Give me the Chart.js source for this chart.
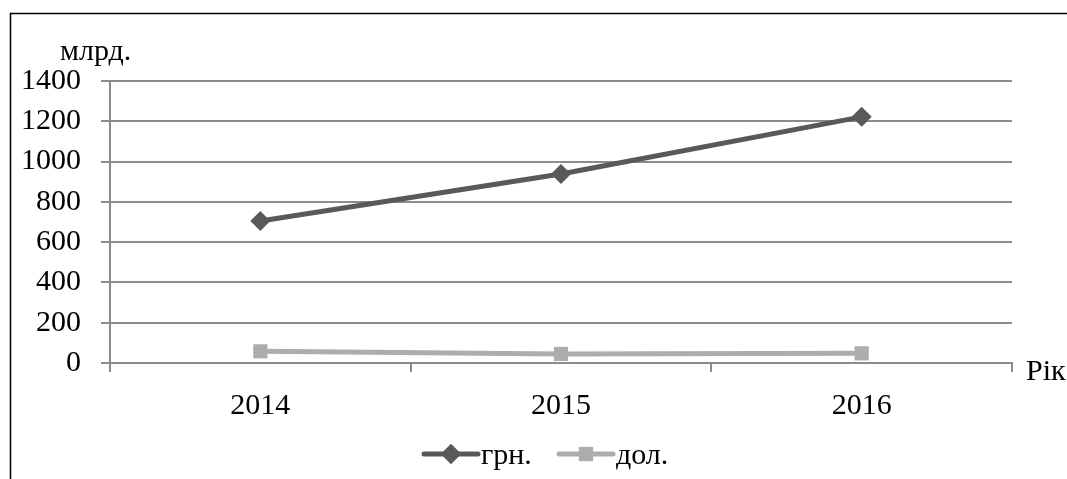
<!DOCTYPE html>
<html>
<head>
<meta charset="utf-8">
<script src="https://cdn.jsdelivr.net/npm/chart.js@4/dist/chart.umd.min.js"></script>
<style>
  html, body { margin: 0; padding: 0; background: #fff; }
  #wrap { position: relative; width: 1067px; height: 479px; }
</style>
</head>
<body>
<div id="wrap"><canvas id="c" width="1067" height="479"></canvas></div>
<script>
// Роки та значення (млрд.)
const years = ['2014', '2015', '2016'];
const uah = [705, 938, 1222];
const usd = [58, 45, 48];
const yTicks = [0, 200, 400, 600, 800, 1000, 1200, 1400];

const FONT = "'Liberation Serif', 'Times New Roman', serif";
const FSIZE = 30;
const UAH_COLOR = '#595959';
const USD_COLOR = '#adadad';
const GRID = '#8c8c8c';

// Рамка, підписи осей та легенда
const decor = {
  id: 'decor',
  beforeDraw(chart) {
    const ctx = chart.ctx;
    ctx.save();
    ctx.fillStyle = '#fff';
    ctx.fillRect(0, 0, chart.width, chart.height);
    ctx.strokeStyle = '#000';
    ctx.lineWidth = 1.5;
    ctx.strokeRect(10.5, 13.5, 1200, 600);
    ctx.restore();
  },
  afterDraw(chart) {
    const ctx = chart.ctx;
    const area = chart.chartArea;
    ctx.save();
    ctx.fillStyle = '#000';
    ctx.font = FSIZE + 'px ' + FONT;
    ctx.textBaseline = 'middle';
    ctx.textAlign = 'left';
    ctx.fillText('млрд.', 60, 52);
    ctx.fillText('Рік', 1026, area.bottom + 9);

    // легенда
    const items = [
      { label: 'грн.', color: UAH_COLOR, style: 'rectRot', x: 424 },
      { label: 'дол.', color: USD_COLOR, style: 'rect', x: 559 }
    ];
    const ly = 454;
    items.forEach(it => {
      ctx.strokeStyle = it.color;
      ctx.lineWidth = 5;
      ctx.lineCap = 'round';
      ctx.beginPath();
      ctx.moveTo(it.x, ly);
      ctx.lineTo(it.x + 54, ly);
      ctx.stroke();
      ctx.fillStyle = it.color;
      Chart.helpers.drawPoint(ctx, { pointStyle: it.style, radius: 10, rotation: 0, borderWidth: 0 }, it.x + 27, ly);
      ctx.fill();
      ctx.fillStyle = '#000';
      ctx.fillText(it.label, it.x + 57, ly + 2);
    });
    ctx.restore();
  }
};

function draw() {
  new Chart(document.getElementById('c'), {
    type: 'line',
    data: {
      labels: years,
      datasets: [
        {
          label: 'грн.',
          data: uah,
          borderColor: UAH_COLOR,
          backgroundColor: UAH_COLOR,
          borderWidth: 5,
          pointStyle: 'rectRot',
          pointRadius: 10,
          pointBorderWidth: 0,
          tension: 0
        },
        {
          label: 'дол.',
          data: usd,
          borderColor: USD_COLOR,
          backgroundColor: USD_COLOR,
          borderWidth: 5,
          pointStyle: 'rect',
          pointRadius: 10,
          pointBorderWidth: 0,
          tension: 0
        }
      ]
    },
    options: {
      responsive: false,
      animation: false,
      devicePixelRatio: 1,
      layout: { padding: { left: 0, top: 81, right: 55, bottom: 56 } },
      plugins: {
        legend: { display: false },
        tooltip: { enabled: false }
      },
      scales: {
        x: {
          offset: true,
          afterFit(s) { s.height = 60; },
          grid: {
            offset: true,
            drawOnChartArea: false,
            drawTicks: true,
            tickLength: 9,
            color: GRID,
            lineWidth: 2
          },
          border: { color: GRID, width: 2 },
          ticks: {
            color: '#000',
            padding: 16,
            font: { family: FONT, size: FSIZE }
          }
        },
        y: {
          min: 0,
          max: 1400,
          afterFit(s) { s.width = 110; },
          afterBuildTicks(s) { s.ticks = yTicks.map(v => ({ value: v })); },
          grid: {
            color: GRID,
            lineWidth: 2,
            tickLength: 9
          },
          border: { color: GRID, width: 2 },
          ticks: {
            color: '#000',
            padding: 20,
            font: { family: FONT, size: FSIZE },
            callback: v => String(v)
          }
        }
      }
    },
    plugins: [decor]
  });
}

if (document.fonts && document.fonts.load) {
  document.fonts.load(FSIZE + 'px ' + FONT, 'млрд.0123456789').then(draw, draw);
} else {
  draw();
}
</script>
</body>
</html>
